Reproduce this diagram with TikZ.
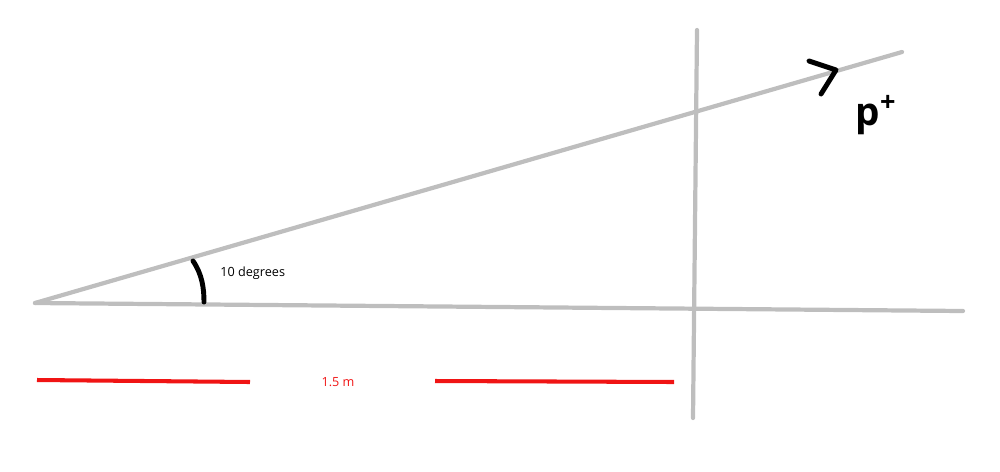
\documentclass[tikz,border=0pt]{standalone}
\usepackage{fontspec}
\setmainfont{Open Sans}
\usetikzlibrary{positioning}

\definecolor{axisgray}{RGB}{190,190,190}
\definecolor{rulered}{RGB}{240,20,20}

\begin{document}
\begin{tikzpicture}[
    x=0.02cm, y=-0.02cm,
    ray/.style={draw=axisgray, line width=2.4pt, line cap=round},
    ink/.style={draw=black, line width=2.8pt, line cap=round, line join=round},
    measure/.style={draw=rulered, line width=2.3pt},
    small label/.style={inner sep=0pt, font=\fontsize{7.2}{9}\selectfont}
]
\useasboundingbox (0,0) rectangle (1000,471);

% Geometry points
\coordinate (apex) at (35,303);
\coordinate (upper) at (902,52);
\coordinate (lower) at (963,311);
\coordinate (vtop) at (697,30);
\coordinate (vbot) at (693,418);

% Rays and the vertical line
\draw[ray] (apex) -- (upper);
\draw[ray] (apex) -- (lower);
\draw[ray] (vtop) -- (vbot);

% Angle mark
\coordinate (arcA) at (193,261);
\coordinate (arcB) at (204,302);
\draw[ink] (arcA) .. controls (202,274) and (204,288) .. (arcB);
\node[small label, anchor=west] (angle) at (220,273) {10 degrees};

% Direction chevron
\coordinate (chevA) at (809,61);
\coordinate (chevTip) at (836,70);
\coordinate (chevB) at (821,94);
\draw[ink] (chevA) -- (chevTip) -- (chevB);
\node[inner sep=0pt, font=\fontsize{22}{26}\bfseries] (particle) at (876,115) {p\textsuperscript{+}};

% Length bar
\node[small label, text=rulered] (len) at (338,382) {1.5 m};
\coordinate (barL) at (37,380);
\coordinate (barLend) at (250,382);
\coordinate (barRstart) at (435,381);
\coordinate (barR) at (674,382);
\draw[measure] (barL) -- (barLend);
\draw[measure] (barRstart) -- (barR);

\end{tikzpicture}
\end{document}
